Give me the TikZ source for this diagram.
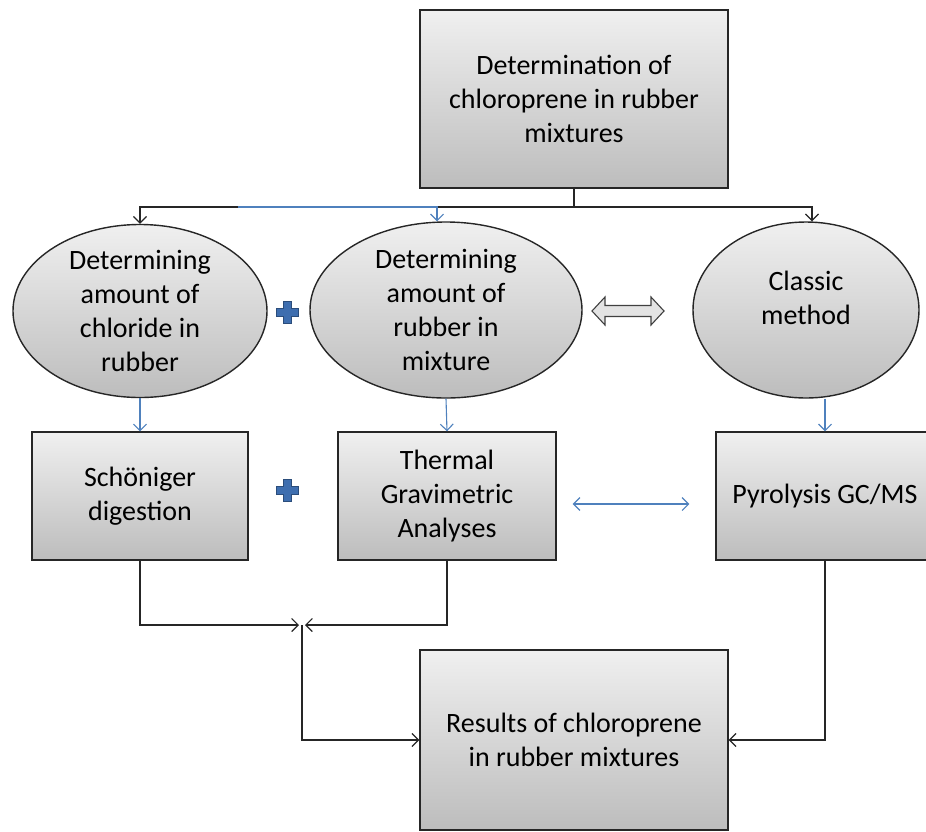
\documentclass[tikz,border=0pt]{standalone}
\usepackage{fontspec}
\setmainfont{Carlito}
\usetikzlibrary{arrows.meta, shapes.geometric}
\definecolor{linkblue}{RGB}{79,129,189}
\definecolor{plusblue}{RGB}{62,110,175}
\begin{document}
\begin{tikzpicture}[x=1pt, y=-1pt,
	greybox/.style = {draw=black!85, line width=1.4pt, top color=gray!12, bottom color=gray!52,
		align=center, inner sep=0pt, font=\fontsize{28}{34}\selectfont},
	greyoval/.style = {greybox, ellipse, inner ysep=-5pt},
	barb/.tip = {Straight Barb[length=6.5pt, width=13pt]},
	conn/.style = {draw=black!85, line width=1.2pt, -barb},
	blueconn/.style = {draw=linkblue, line width=1.1pt, -barb},
	plussign/.pic = {\filldraw[fill=plusblue, draw=plusblue!70!black, line width=0.6pt]
		(-11,-4) -- (-4,-4) -- (-4,-11) -- (4,-11) -- (4,-4) -- (11,-4) -- (11,4) -- (4,4)
		-- (4,11) -- (-4,11) -- (-4,4) -- (-11,4) -- cycle;},
	hollowarrow/.pic = {\filldraw[fill=gray!22, draw=black!75, line width=1.1pt]
		(-36,0) -- (-23,-14) -- (-23,-5.5) -- (23,-5.5) -- (23,-14) -- (36,0) -- (23,14)
		-- (23,5.5) -- (-23,5.5) -- (-23,14) -- cycle;}
	]
	\useasboundingbox (0,0) rectangle (926,831);
	% top box
	\node[greybox, minimum width=308, minimum height=178] (top) at (574,99)
		{Determination of\\chloroprene in rubber\\mixtures};
	% methods
	\node[greyoval, minimum width=254, minimum height=173] (lefto) at (140,311)
		{Determining\\amount of\\chloride in\\rubber};
	\node[greyoval, minimum width=272, minimum height=176] (mido) at (446,310)
		{Determining\\amount of\\rubber in\\mixture};
	\node[greyoval, minimum width=226, minimum height=176] (righto) at (806,310)
		{Classic\\method\\[-10pt]};
	\pic at (287,312) {plussign};
	\pic at (628,311) {hollowarrow};
	% techniques
	\node[greybox, minimum width=216, minimum height=128] (schon) at (140,496)
		{Schöniger\\digestion};
	\node[greybox, minimum width=218, minimum height=128] (tga) at (447,496)
		{Thermal\\Gravimetric\\Analyses};
	\node[greybox, minimum width=218, minimum height=128] (pyro) at (825,496)
		{Pyrolysis GC/MS};
	\pic at (287,490) {plussign};
	% result
	\node[greybox, minimum width=308, minimum height=180] (res) at (574,740)
		{Results of chloroprene\\in rubber mixtures};
	% connectors
	\coordinate (split) at (574,207);
	\coordinate (bluestart) at (238,207);
	\coordinate (meet) at (302,625);
	\draw[conn] (top.south) -- (split) -| (lefto.north);
	\draw[conn] (split) -| ([xshift=6]righto.north);
	\draw[blueconn] (bluestart) -| ([xshift=-9]mido.north);
	\draw[blueconn] (lefto.south) -- (schon.north);
	\draw[blueconn] (mido.south) -- (tga.north);
	\draw[blueconn] (righto.south -| pyro.north) -- (pyro.north);
	\draw[blueconn, barb-barb] ([xshift=16, yshift=-8]tga.east) -- ([xshift=-26, yshift=-8]pyro.west);
	\draw[conn] (schon.south) |- ([xshift=-3]meet);
	\draw[conn] (tga.south) |- ([xshift=3]meet);
	\draw[conn] (meet) |- (res.west);
	\draw[conn] (pyro.south) |- (res.east);
\end{tikzpicture}
\end{document}
